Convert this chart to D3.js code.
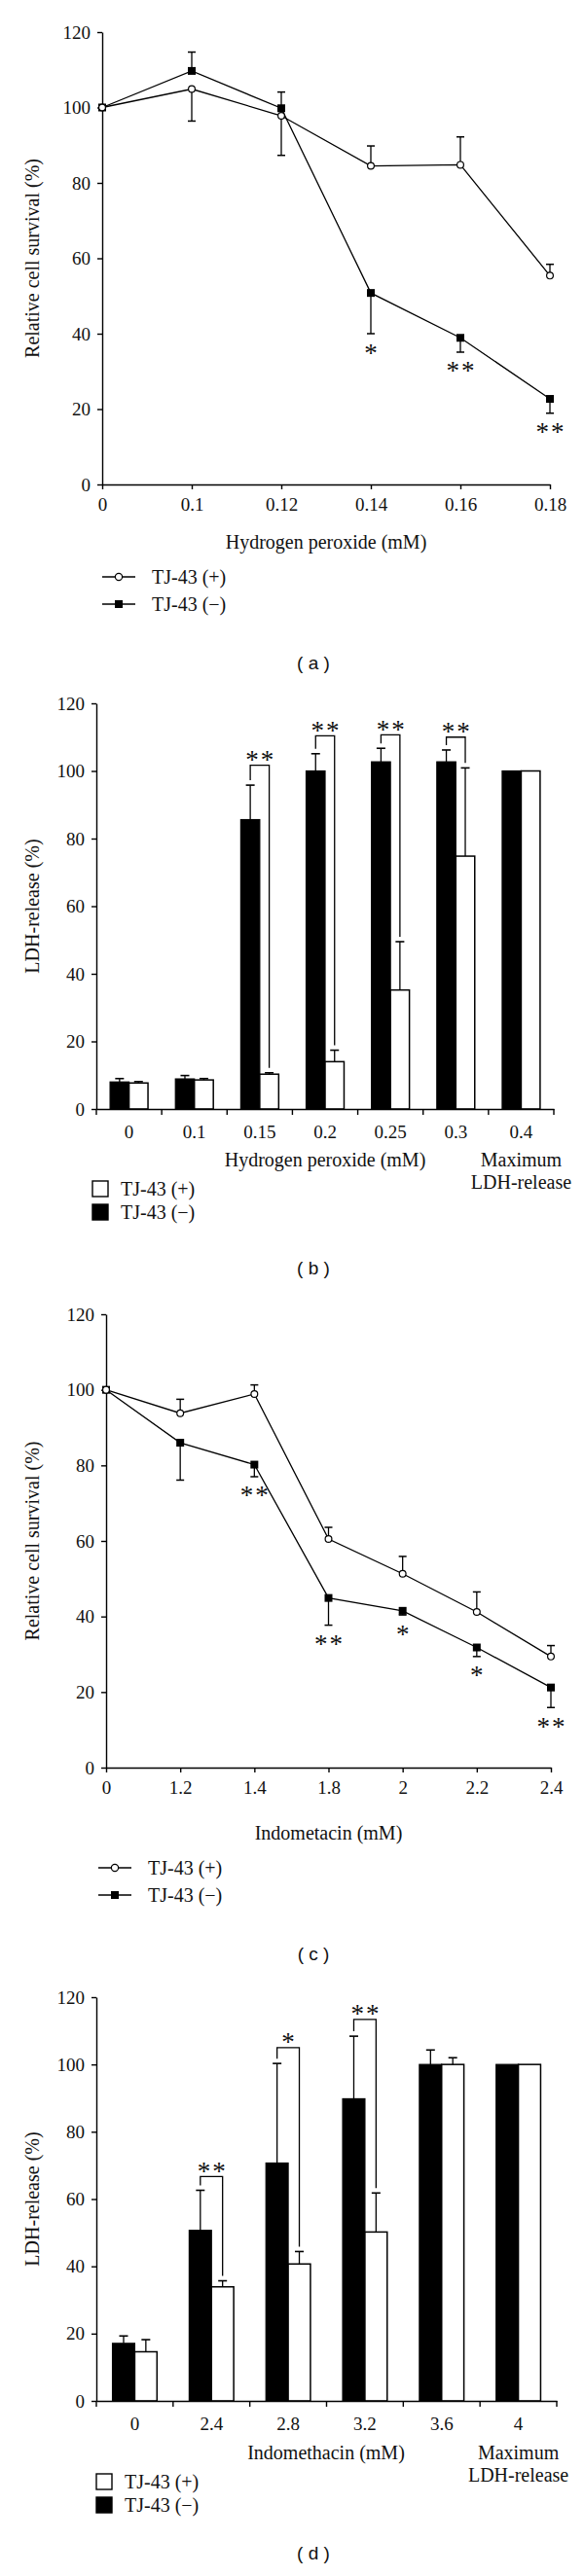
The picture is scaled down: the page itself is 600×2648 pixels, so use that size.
<!DOCTYPE html>
<html><head><meta charset="utf-8">
<script src="https://cdnjs.cloudflare.com/ajax/libs/d3/7.8.5/d3.min.js"></script>
<style>
body{margin:0;background:#fff;}
svg{display:block;}
text{font-family:"Liberation Serif","Times New Roman",serif;fill:#111;}
.cap{font-family:"Liberation Sans",Arial,sans-serif;}
</style></head><body>
<svg id="chart" width="600" height="2648"></svg>
<script>
// ---------- shared ----------
const yTicks = [0, 20, 40, 60, 80, 100, 120];
const seriesNames = ["TJ-43 (+)", "TJ-43 (\u2212)"];

// ---------- panel (a) ----------
const aCategories = ["0", "0.1", "0.12", "0.14", "0.16", "0.18"];
const aPlus      = [100, 104.9, 97.8, 84.5, 84.8, 55.4];
const aPlusErr   = [0, -8.5, -10.5, 5.3, 7.4, 3.0];
const aMinus     = [100, 109.7, 99.8, 50.8, 38.9, 22.7];
const aMinusErr  = [0, 5.0, 4.3, -10.8, -3.8, -3.8];
const aStars     = ["", "", "", "*", "**", "**"];

// ---------- panel (b) ----------
const bCategories = ["0", "0.1", "0.15", "0.2", "0.25", "0.3", "0.4"];
const bMinus     = [8.0, 8.9, 85.6, 100, 102.7, 102.7, 100];
const bMinusErr  = [1.0, 1.0, 10.2, 5.1, 4.0, 3.5, 0];
const bPlus      = [7.7, 8.6, 10.3, 14.0, 35.2, 74.8, 100];
const bPlusErr   = [0.4, 0.4, 0.4, 3.4, 14.3, 26.1, 0];
const bSigTop    = [null, null, 101.7, 110.4, 110.7, 110.0, null];
const bSigLabel  = ["", "", "**", "**", "**", "**", ""];

// ---------- panel (c) ----------
const cCategories = ["0", "1.2", "1.4", "1.8", "2", "2.2", "2.4"];
const cPlus      = [100, 93.8, 98.9, 60.5, 51.3, 41.2, 29.4];
const cPlusErr   = [0, 3.7, 2.4, 3.1, 4.6, 5.3, 2.9];
const cMinus     = [100, 86.0, 80.2, 44.9, 41.5, 31.8, 21.2];
const cMinusErr  = [0, -9.9, -3.2, -7.2, -1.1, -2.4, -5.3];
const cStars     = ["", "", "**", "**", "*", "*", "**"];

// ---------- panel (d) ----------
const dCategories = ["0", "2.4", "2.8", "3.2", "3.6", "4"];
const dMinus     = [17.1, 50.7, 70.7, 89.8, 100, 100];
const dMinusErr  = [2.2, 11.9, 29.6, 18.6, 4.3, 0];
const dPlus      = [14.6, 33.9, 40.7, 50.2, 100, 100];
const dPlusErr   = [3.6, 1.8, 3.7, 11.6, 2.0, 0];
const dSigTop    = [null, 66.7, 105, 113.4, null, null];
const dSigLabel  = ["", "**", "*", "**", "", ""];

const svg = d3.select("#chart");
svg.append("rect").attr("width", 600).attr("height", 2648).attr("fill", "#fff");

function styleAxis(ax) {
  ax.attr("font-family", null).attr("font-size", null);
  ax.selectAll("path,line").attr("stroke", "#000").attr("stroke-width", 1.4);
  ax.selectAll("text").attr("fill", "#111").style("font-size", "19px");
}

function drawYAxis(g, y, left, top, bottom, title) {
  const ax = g.append("g").attr("transform", `translate(${left},0)`)
    .call(d3.axisLeft(y).tickValues(yTicks).tickSize(5).tickSizeOuter(0).tickPadding(7));
  styleAxis(ax);
  g.append("text").attr("transform", `translate(33,${(top + bottom) / 2}) rotate(-90)`)
    .attr("text-anchor", "middle").attr("dy", "0.35em").style("font-size", "20px").text(title);
}

function stars(g, x, yc, label) {
  g.append("text").attr("x", x).attr("y", yc + 13.5).attr("text-anchor", "middle")
    .style("font-size", "27px").style("letter-spacing", label.length > 1 ? "2px" : "0px")
    .attr("dx", label.length > 1 ? "1px" : 0).text(label);
}

function caption(text, yc) {
  svg.append("text").attr("class", "cap").attr("x", 322).attr("y", yc).attr("dy", "0.35em")
    .attr("text-anchor", "middle").style("font-size", "19px").text(text);
}

// ---------- line chart ----------
function lineChart(o) {
  const g = svg.append("g");
  const x = d3.scalePoint().domain(o.cats).range([o.left, o.right]);
  const y = d3.scaleLinear().domain([0, 120]).range([o.bottom, o.top]);
  drawYAxis(g, y, o.left, o.top, o.bottom, o.yTitle);
  const xa = g.append("g").attr("transform", `translate(0,${o.bottom})`)
    .call(d3.axisBottom(x).tickSize(5).tickSizeOuter(0).tickPadding(9));
  styleAxis(xa);
  g.append("text").attr("x", (o.left + o.right) / 2).attr("y", o.titleY).attr("dy", "0.35em")
    .attr("text-anchor", "middle").style("font-size", "20px").text(o.xTitle);

  const line = d3.line().x((d, i) => x(o.cats[i])).y(d => y(d));
  [o.plus, o.minus].forEach(s => {
    g.append("path").datum(s).attr("d", line).attr("fill", "none")
      .attr("stroke", "#000").attr("stroke-width", 1.3);
  });
  // error bars
  [[o.plus, o.plusErr], [o.minus, o.minusErr]].forEach(([v, e]) => {
    v.forEach((val, i) => {
      if (!e[i]) return;
      const cx = x(o.cats[i]), y1 = y(val), y2 = y(val + e[i]);
      g.append("line").attr("x1", cx).attr("x2", cx).attr("y1", y1).attr("y2", y2)
        .attr("stroke", "#000").attr("stroke-width", 1.3);
      g.append("line").attr("x1", cx - 4).attr("x2", cx + 4).attr("y1", y2).attr("y2", y2)
        .attr("stroke", "#000").attr("stroke-width", 1.5);
    });
  });
  // markers
  o.minus.forEach((val, i) => {
    g.append("rect").attr("x", x(o.cats[i]) - 4).attr("y", y(val) - 4)
      .attr("width", 8).attr("height", 8).attr("fill", "#000");
  });
  o.plus.forEach((val, i) => {
    g.append("circle").attr("cx", x(o.cats[i])).attr("cy", y(val)).attr("r", 3.4)
      .attr("fill", "#fff").attr("stroke", "#000").attr("stroke-width", 1.2);
  });
  // significance
  o.stars.forEach((s, i) => {
    if (!s) return;
    const end = o.minus[i] + Math.min(0, o.minusErr[i]);
    stars(g, x(o.cats[i]), y(end) + 15, s);
  });
  // legend
  o.legendY.forEach((ly, k) => {
    const lx = o.legendX;
    g.append("line").attr("x1", lx).attr("x2", lx + 34).attr("y1", ly).attr("y2", ly)
      .attr("stroke", "#000").attr("stroke-width", 1.3);
    if (k === 0) {
      g.append("circle").attr("cx", lx + 17).attr("cy", ly).attr("r", 3.6)
        .attr("fill", "#fff").attr("stroke", "#000").attr("stroke-width", 1.2);
    } else {
      g.append("rect").attr("x", lx + 13).attr("y", ly - 4).attr("width", 8).attr("height", 8).attr("fill", "#000");
    }
    g.append("text").attr("x", lx + 51).attr("y", ly).attr("dy", "0.35em")
      .style("font-size", "20px").text(seriesNames[k]);
  });
}

// ---------- bar chart ----------
function barChart(o) {
  const g = svg.append("g");
  const x = d3.scaleBand().domain(o.cats).range([o.left, o.right]);
  const y = d3.scaleLinear().domain([0, 120]).range([o.bottom, o.top]);
  const bw = x.bandwidth() * 0.29;
  const cx = c => x(c) + x.bandwidth() / 2;

  o.cats.forEach((c, i) => {
    g.append("rect").attr("x", cx(c) - bw).attr("y", y(o.minus[i])).attr("width", bw)
      .attr("height", y(0) - y(o.minus[i])).attr("fill", "#000").attr("stroke", "#000").attr("stroke-width", 1.2);
    g.append("rect").attr("x", cx(c)).attr("y", y(o.plus[i])).attr("width", bw)
      .attr("height", y(0) - y(o.plus[i])).attr("fill", "#fff").attr("stroke", "#000").attr("stroke-width", 1.5);
  });
  o.cats.forEach((c, i) => {
    [[cx(c) - bw / 2, o.minus[i], o.minusErr[i]], [cx(c) + bw / 2, o.plus[i], o.plusErr[i]]].forEach(([ex, v, e]) => {
      if (!e) return;
      g.append("line").attr("x1", ex).attr("x2", ex).attr("y1", y(v)).attr("y2", y(v + e))
        .attr("stroke", "#000").attr("stroke-width", 1.3);
      g.append("line").attr("x1", ex - 4.5).attr("x2", ex + 4.5).attr("y1", y(v + e)).attr("y2", y(v + e))
        .attr("stroke", "#000").attr("stroke-width", 1.6);
    });
  });
  o.cats.forEach((c, i) => {
    if (o.sigTop[i] == null) return;
    const xl = cx(c) - bw / 2, xr = cx(c) + bw / 2;
    const yt = y(o.sigTop[i]);
    const yl = y(o.minus[i] + o.minusErr[i]) - 5;
    const yr = y(o.plus[i] + o.plusErr[i]) - 5;
    g.append("path").attr("d", `M${xl},${yl}V${yt}H${xr}V${yr}`).attr("fill", "none")
      .attr("stroke", "#000").attr("stroke-width", 1.3);
    stars(g, cx(c), yt - 10, o.sigLabel[i]);
  });

  drawYAxis(g, y, o.left, o.top, o.bottom, o.yTitle);
  const xa = g.append("g").attr("transform", `translate(0,${o.bottom})`)
    .call(d3.axisBottom(x).tickSize(0).tickSizeOuter(0).tickPadding(17));
  styleAxis(xa);
  o.cats.concat([null]).forEach(c => {
    const tx = c == null ? x.range()[1] : x(c);
    g.append("line").attr("x1", tx).attr("x2", tx).attr("y1", o.bottom).attr("y2", o.bottom + 6)
      .attr("stroke", "#000").attr("stroke-width", 1.4);
  });
  const lastX = cx(o.cats[o.cats.length - 1]);
  g.append("text").attr("x", o.titleX).attr("y", o.titleY).attr("dy", "0.35em")
    .attr("text-anchor", "middle").style("font-size", "20px").text(o.xTitle);
  ["Maximum", "LDH-release"].forEach((t, k) => {
    g.append("text").attr("x", lastX).attr("y", o.titleY + k * 23).attr("dy", "0.35em")
      .attr("text-anchor", "middle").style("font-size", "20px").text(t);
  });
  o.legendY.forEach((ly, k) => {
    g.append("rect").attr("x", o.legendX).attr("y", ly - 8).attr("width", 16).attr("height", 16)
      .attr("fill", k === 0 ? "#fff" : "#000").attr("stroke", "#000").attr("stroke-width", 1.4);
    g.append("text").attr("x", o.legendX + 29).attr("y", ly).attr("dy", "0.35em")
      .style("font-size", "20px").text(seriesNames[k]);
  });
}

lineChart({cats: aCategories, plus: aPlus, plusErr: aPlusErr, minus: aMinus, minusErr: aMinusErr,
  stars: aStars, left: 105, right: 565, top: 33, bottom: 498, titleY: 557,
  yTitle: "Relative cell survival (%)", xTitle: "Hydrogen peroxide (mM)",
  legendX: 105, legendY: [593, 621]});
caption("( a )", 681);

barChart({cats: bCategories, plus: bPlus, plusErr: bPlusErr, minus: bMinus, minusErr: bMinusErr,
  sigTop: bSigTop, sigLabel: bSigLabel, left: 99, right: 569, top: 723, bottom: 1140,
  titleX: 334, titleY: 1192, yTitle: "LDH-release (%)", xTitle: "Hydrogen peroxide (mM)",
  legendX: 95, legendY: [1222, 1246]});
caption("( b )", 1303);

lineChart({cats: cCategories, plus: cPlus, plusErr: cPlusErr, minus: cMinus, minusErr: cMinusErr,
  stars: cStars, left: 109, right: 566, top: 1351, bottom: 1817, titleY: 1884,
  yTitle: "Relative cell survival (%)", xTitle: "Indometacin (mM)",
  legendX: 101, legendY: [1920, 1948]});
caption("( c )", 2008);

barChart({cats: dCategories, plus: dPlus, plusErr: dPlusErr, minus: dMinus, minusErr: dMinusErr,
  sigTop: dSigTop, sigLabel: dSigLabel, left: 99, right: 572, top: 2053, bottom: 2468,
  titleX: 335, titleY: 2521, yTitle: "LDH-release (%)", xTitle: "Indomethacin (mM)",
  legendX: 99, legendY: [2551, 2575]});
caption("( d )", 2624);
</script>
</body></html>
